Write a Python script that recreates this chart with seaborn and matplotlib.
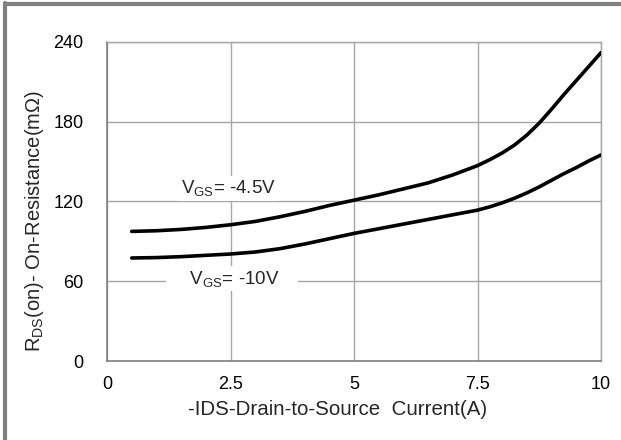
import numpy as np
import pandas as pd
import seaborn as sns
import matplotlib
matplotlib.use("Agg")
import matplotlib.pyplot as plt
from matplotlib.lines import Line2D

# ---- data ----
current_a = [0.5, 1, 1.5, 2, 2.5, 3, 3.5, 4, 4.5, 5, 5.5, 6, 6.5, 7, 7.5,
             7.75, 8, 8.25, 8.5, 8.75, 9, 9.25, 9.5, 9.75, 10]
rds_vgs_4p5 = [97.5, 98, 99, 100.5, 102.5, 105, 108.5, 112.5, 117, 121, 125, 129.5, 134, 140, 147,
               151.5, 156.5, 162.5, 170, 179, 189.5, 200.5, 211, 221.5, 232]
rds_vgs_10 = [77.5, 77.8, 78.5, 79.5, 80.5, 82, 84.5, 88, 92, 96, 99.5, 103, 106.5, 110, 113.5,
              116, 119, 122.5, 126.5, 131, 136, 141, 145.5, 150.5, 155]
series_names = ["VGS=-4.5V", "VGS=-10V"]
x_ticks = [0, 2.5, 5, 7.5, 10]
x_tick_labels = ["0", "2.5", "5", "7.5", "10"]
y_ticks = [0, 60, 120, 180, 240]
x_label = "-IDS-Drain-to-Source  Current(A)"
y_label = r"R$_{\mathregular{DS}}$(on)- On-Resistance(m$\mathregular{\Omega}$)"
label_4p5 = r"V$_{\mathregular{GS}}$= -4.5V"
label_10 = r"    V$_{\mathregular{GS}}$= -10V    "

df = pd.concat([
    pd.DataFrame({"I": current_a, "R": rds_vgs_4p5, "s": series_names[0]}),
    pd.DataFrame({"I": current_a, "R": rds_vgs_10, "s": series_names[1]}),
])

sns.set_theme(style="white")
plt.rcParams["font.family"] = ["Liberation Sans", "DejaVu Sans"]
plt.rcParams["mathtext.default"] = "regular"

fig = plt.figure(figsize=(6.21, 4.40), dpi=100)
ax = fig.add_axes([107 / 621, 1 - 361 / 440, (601 - 107) / 621, (361 - 42) / 440])

sns.lineplot(data=df, x="I", y="R", hue="s", palette=["black", "black"],
             linewidth=2.6, legend=False, ax=ax, zorder=3)

ax.set_xlim(0, 10)
ax.set_ylim(0, 240)
ax.set_xticks(x_ticks)
ax.set_xticklabels(x_tick_labels)
ax.set_yticks(y_ticks)
ax.grid(True, color="#a6a6a6", linewidth=1.0, zorder=0)
ax.set_axisbelow(True)
for side in ["top", "right"]:
    ax.spines[side].set_color("#a6a6a6")
    ax.spines[side].set_linewidth(1.0)
for side in ["left", "bottom"]:
    ax.spines[side].set_color("#808080")
    ax.spines[side].set_linewidth(1.2)
ax.tick_params(axis="both", length=0, labelsize=13, colors="black")
ax.tick_params(axis="y", pad=17)
ax.tick_params(axis="x", pad=11)
ax.set_xlabel(x_label, fontsize=14.8)
ax.set_ylabel(y_label, fontsize=14.5)
ax.xaxis.set_label_coords((338 - 107) / 494, (361 - 400) / 319)
ax.yaxis.set_label_coords((46 - 107) / 494, (361 - 221) / 319)

ax.text(2.46, 129.8, label_4p5, fontsize=13.5, ha="center", va="center", zorder=2,
        bbox=dict(boxstyle="square,pad=0.15", fc="white", ec="none"))
ax.text(2.53, 62, label_10, fontsize=13.5, ha="center", va="center", zorder=2,
        bbox=dict(boxstyle="square,pad=0.15", fc="white", ec="none"))

# figure frame (top and left edges)
fig.add_artist(Line2D([4.5 / 621, 1], [1 - 4.5 / 440, 1 - 4.5 / 440], transform=fig.transFigure,
                      color="#808080", linewidth=3))
fig.add_artist(Line2D([4.5 / 621, 4.5 / 621], [0, 1 - 3 / 440], transform=fig.transFigure,
                      color="#808080", linewidth=3))

fig.savefig("out.png", dpi=100)
